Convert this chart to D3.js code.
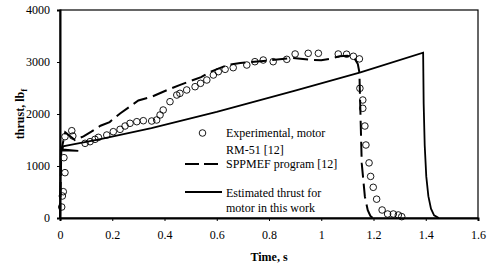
<!DOCTYPE html>
<html>
<head>
<meta charset="utf-8">
<script src="https://cdn.jsdelivr.net/npm/d3@7"></script>
<style>
  body { margin: 0; background: #fff; }
</style>
</head>
<body>
<div id="wrapper"></div>
<script>
// experimental points, motor RM-51 [12]
const expTime = [0.0065, 0.009, 0.0126, 0.015, 0.019, 0.019, 0.045, 0.049,
  0.096, 0.115, 0.134, 0.147, 0.179, 0.204, 0.23, 0.249, 0.268, 0.294, 0.319,
  0.351, 0.37, 0.383, 0.395, 0.421, 0.447, 0.459, 0.485, 0.517, 0.538, 0.562,
  0.587, 0.606, 0.632, 0.663, 0.715, 0.746, 0.778, 0.816, 0.868, 0.9, 0.95,
  0.989, 1.065, 1.097, 1.123, 1.146, 1.148, 1.159, 1.159, 1.167, 1.171, 1.183,
  1.189, 1.199, 1.212, 1.233, 1.254, 1.276, 1.295, 1.308]
const expThrust = [211, 423, 506, 1160, 872, 1564, 1679, 1577,
  1436, 1468, 1513, 1551, 1596, 1660, 1705, 1769, 1821, 1852, 1871,
  1865, 1885, 1981, 2077, 2237, 2365, 2397, 2462, 2525, 2590, 2654,
  2750, 2814, 2859, 2891, 2942, 3006, 3038, 3006, 3051, 3154, 3167,
  3167, 3154, 3150, 3110, 3060, 2494, 2269, 2109, 1769, 1404, 1060,
  800, 590, 362, 154, 77, 77, 58, 26]

// SPPMEF program [12]
const sppTime = [0, 0.005, 0.02, 0.057, 0.09, 0.12, 0.155, 0.19, 0.23, 0.3,
  0.35, 0.41, 0.46, 0.54, 0.575, 0.64, 0.69, 0.73, 0.8, 0.89, 0.93, 0.97, 1.0,
  1.03, 1.07, 1.1, 1.125, 1.14, 1.146, 1.148, 1.155, 1.167, 1.178, 1.188, 1.198]
const sppThrust = [0, 1300, 1650, 1500, 1570, 1660, 1775, 1845, 2010, 2260,
  2330, 2460, 2560, 2710, 2810, 2940, 2980, 3000, 3030, 3077, 3060, 3040, 3035,
  3060, 3110, 3120, 3085, 2960, 2800, 2400, 1050, 410, 150, 40, 0]

// estimated thrust for motor in this work
const estTime = [0, 0.003, 0.07, 0.01, 0.012, 0.04, 0.15, 0.35, 0.6, 0.9, 1.15,
  1.39, 1.392, 1.396, 1.402, 1.41, 1.42, 1.432, 1.45]
const estThrust = [0, 1300, 1290, 1320, 1380, 1405, 1510, 1730, 2040, 2450, 2800,
  3180, 2200, 1400, 800, 420, 180, 50, 0]

const xTicks = [0, 0.2, 0.4, 0.6, 0.8, 1, 1.2, 1.4, 1.6]
const yTicks = [0, 1000, 2000, 3000, 4000]

const legendLabels = [
  ["Experimental, motor", "RM-51 [12]"],
  ["SPPMEF program [12]"],
  ["Estimated thrust for", "motor in this work"]
]

const font = "'Liberation Serif'"

const dimensions = {
  width: 500,
  height: 267,
  margin: { top: 10, right: 22, bottom: 49, left: 60 }
}
dimensions.boundedWidth = dimensions.width - dimensions.margin.left - dimensions.margin.right
dimensions.boundedHeight = dimensions.height - dimensions.margin.top - dimensions.margin.bottom

const svg = d3.select("#wrapper")
  .append("svg")
    .attr("width", dimensions.width)
    .attr("height", dimensions.height)

const bounds = svg.append("g")
    .attr("transform", `translate(${dimensions.margin.left},${dimensions.margin.top})`)

const xScale = d3.scaleLinear()
  .domain([0, 1.6])
  .range([0, dimensions.boundedWidth])

const yScale = d3.scaleLinear()
  .domain([0, 4000])
  .range([dimensions.boundedHeight, 0])

// frame
bounds.append("rect")
    .attr("width", dimensions.boundedWidth)
    .attr("height", dimensions.boundedHeight)
    .attr("fill", "none")
    .attr("stroke", "#000")
    .attr("stroke-width", 1.2)

// axes
const xAxis = bounds.append("g")
    .attr("transform", `translate(0,${dimensions.boundedHeight})`)
    .call(d3.axisBottom(xScale).tickValues(xTicks).tickSize(3).tickPadding(9)
      .tickFormat(d3.format("~g")))
const yAxis = bounds.append("g")
    .call(d3.axisLeft(yScale).tickValues(yTicks).tickSize(3).tickPadding(7)
      .tickFormat(d3.format("d")))

;[xAxis, yAxis].forEach(ax => {
  ax.attr("font-family", null)
  ax.select(".domain").attr("stroke-width", 2)
  ax.selectAll("text")
    .style("font-family", font)
    .style("font-size", "12px")
    .attr("fill", "#000")
})

// lines
const toPoints = (ts, vs) => ts.map((t, i) => [t, vs[i]])
const lineGen = d3.line()
  .x(d => xScale(d[0]))
  .y(d => yScale(d[1]))

bounds.append("path")
    .attr("d", lineGen(toPoints(sppTime, sppThrust)))
    .attr("fill", "none")
    .attr("stroke", "#000")
    .attr("stroke-width", 2)
    .attr("stroke-dasharray", "15,6")

bounds.append("path")
    .attr("d", lineGen(toPoints(estTime, estThrust)))
    .attr("fill", "none")
    .attr("stroke", "#000")
    .attr("stroke-width", 1.8)

// experimental circles
bounds.append("g")
  .selectAll("circle")
  .data(toPoints(expTime, expThrust))
  .join("circle")
    .attr("cx", d => xScale(d[0]))
    .attr("cy", d => yScale(d[1]))
    .attr("r", 3.3)
    .attr("fill", "none")
    .attr("stroke", "#000")
    .attr("stroke-width", 0.9)

// legend
const legend = svg.append("g")
const lx0 = 185, lx1 = 222, tx = 226
legend.append("circle")
    .attr("cx", (lx0 + lx1) / 2 - 1)
    .attr("cy", 133)
    .attr("r", 3.3)
    .attr("fill", "none")
    .attr("stroke", "#000")
    .attr("stroke-width", 0.9)
legend.append("line")
    .attr("x1", lx0).attr("x2", lx1)
    .attr("y1", 164).attr("y2", 164)
    .attr("stroke", "#000")
    .attr("stroke-width", 2)
    .attr("stroke-dasharray", "14,5")
legend.append("line")
    .attr("x1", lx0).attr("x2", lx1)
    .attr("y1", 192).attr("y2", 192)
    .attr("stroke", "#000")
    .attr("stroke-width", 1.8)

const legendY = [[137, 154], [168], [197, 212]]
legendLabels.forEach((lines, i) => {
  lines.forEach((s, j) => {
    legend.append("text")
        .attr("x", tx)
        .attr("y", legendY[i][j])
        .style("font-family", font)
        .style("font-size", "12px")
        .text(s)
  })
})

// axis titles
svg.append("text")
    .attr("x", dimensions.margin.left + dimensions.boundedWidth / 2)
    .attr("y", 261)
    .attr("text-anchor", "middle")
    .style("font-family", font)
    .style("font-size", "12px")
    .style("font-weight", "bold")
    .text("Time, s")

const yTitle = svg.append("text")
    .attr("transform", `translate(24,${dimensions.margin.top + dimensions.boundedHeight / 2}) rotate(-90)`)
    .attr("text-anchor", "middle")
    .style("font-family", font)
    .style("font-size", "12px")
    .style("font-weight", "bold")
yTitle.append("tspan").text("thrust, lb")
yTitle.append("tspan")
    .attr("dy", 3)
    .style("font-size", "9px")
    .text("f")
</script>
</body>
</html>
